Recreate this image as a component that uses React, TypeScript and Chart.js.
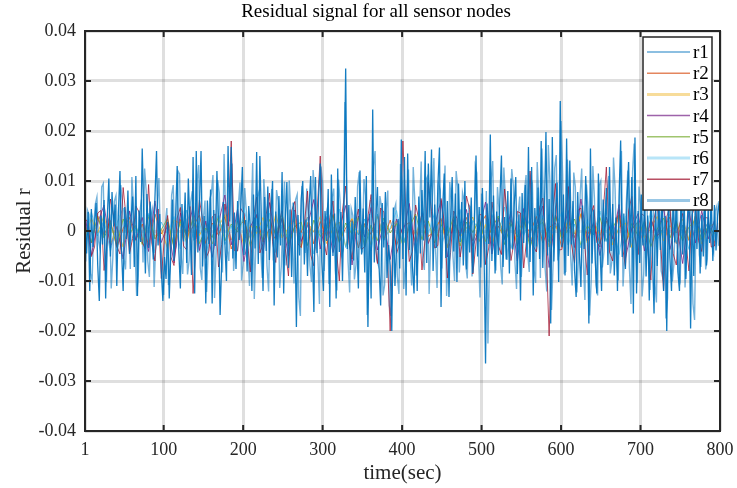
import React, { useEffect, useRef } from 'react';
import { Chart, registerables } from 'chart.js';

Chart.register(...registerables);

const TITLE = 'Residual signal for all sensor nodes';
const X_LABEL = 'time(sec)';
const Y_LABEL = 'Residual r';
const X_TICKS = [1, 100, 200, 300, 400, 500, 600, 700, 800];
const Y_TICKS = [-0.04, -0.03, -0.02, -0.01, 0, 0.01, 0.02, 0.03, 0.04];
const SERIES_NAMES = ['r1', 'r2', 'r3', 'r4', 'r5', 'r6', 'r7', 'r8'];
const SERIES_COLORS = [
  'rgba(0,114,189,0.55)',
  'rgba(217,83,25,0.8)',
  'rgba(237,177,32,0.8)',
  'rgba(126,47,142,0.85)',
  'rgba(119,172,48,0.8)',
  'rgba(77,190,238,0.8)',
  'rgba(162,20,47,0.75)',
  'rgba(0,114,189,0.92)',
];
const SERIES_WIDTHS = [1.4, 1, 1, 1, 1, 1, 1, 1.3];
const LEGEND_COLORS = [
  'rgba(0,114,189,0.45)',
  'rgba(217,83,25,0.7)',
  'rgba(237,177,32,0.45)',
  'rgba(126,47,142,0.75)',
  'rgba(119,172,48,0.7)',
  'rgba(77,190,238,0.4)',
  'rgba(162,20,47,0.75)',
  'rgba(0,114,189,0.4)',
];
const LEGEND_WIDTHS = [2, 1.5, 3, 1.5, 1.5, 3, 1.5, 3];

// all values are in units of 1e-3
const VALUE_UNIT = 1e-3;

// r8: first sample at t = 1 s, one sample every 2 s
const R8_START = 1;
const R8_STEP = 2;
const R8 = [
  2.1, -4.5, 3.8, -12.0, 4.4, -3.2, 1.5, 5.6, -6.8, -14.0, 3.1, -2.7, 6.2, -13.5, 2.4, 10.5, -5.1, 7.8, 0.9, 5.3, -11.0, 3.6, 12.0, -3.9, -12.0, 4.8, -1.6, 8.1, -4.6, 2.7, 6.9, -7.2, 11.0, -13.0, 4.1, -2.2, 16.5, 3.3, -8.5, 7.4,
  -3.4, 5.9, 0.8, -5.7, 6.6, 16.0, -2.9, 3.4, -7.9, -14.0, -5.2, -9.6, 1.8, -13.5, -4.1, 6.3, -6.0, 2.8, 13.0, -3.7, -11.5, 5.4, -2.1, 7.7, -6.4, 10.5, 1.2, -8.8, 14.8, -12.5, 16.0, -4.3, 4.9, 16.0, -7.1, 3.0, -14.5, 6.1, -2.6, 8.3,
  -14.5, 4.2, -3.0, 12.0, 2.5, -16.8, -6.2, 5.8, -2.4, -10.0, 17.0, 1.9, 16.8, -5.5, 3.7, -7.6, 6.0, -1.8, 4.6, 12.8, -4.8, 2.2, -8.1, 5.0, 0.6, -12.0, 7.3, -3.5, 15.8, -6.6, 15.0, 2.0, -12.0, 6.8, -4.0, 8.9, -5.8, 3.1, 10.0, -14.9,
  3.9, -5.3, 7.0, -2.9, 11.8, -12.5, 2.6, 9.8, -7.4, 4.3, -9.2, 5.7, 1.1, -19.2, 3.2, -4.9, 6.4, 10.0, -6.7, 2.3, -9.0, 5.1, 11.0, -3.1, -16.2, 10.8, -4.4, 7.2, 13.5, -6.1, -12.0, 4.0, -2.0, 8.4, -15.2, 11.3, -5.0, 3.5, -13.5, 12.5,
  -4.2, 3.8, -10.0, 6.6, 32.5, -3.6, 5.2, -7.8, 2.1, -5.9, 6.8, -2.5, -11.5, 12.1, -4.7, 4.5, -8.3, 11.0, -19.2, 3.4, -13.5, 24.3, -6.3, 2.9, 8.8, -7.0, -14.9, 5.6, -3.3, 7.8, -9.4, -2.8, -6.8, -20.0, 4.7, -11.0, -3.0, 2.4, -7.5, 18.3,
  -5.6, 14.8, -12.9, 15.5, -3.8, 4.1, -7.1, -12.5, 3.0, -12.0, 6.9, -4.5, 8.2, -1.9, 16.0, -6.4, 13.5, 2.7, 16.3, -8.0, 5.3, -3.4, 9.1, 16.7, -15.2, 4.4, 11.5, -5.4, 6.0, -13.2, 2.5, 10.8, -4.1, 7.5, -10.2, 9.5, -2.2, 5.8, -6.9, 10.0,
  -7.7, 3.6, -4.3, 6.7, -8.4, 2.0, 15.1, -5.1, 4.8, -7.3, 8.6, -3.0, -26.5, 5.5, -2.6, 19.3, -6.0, 7.1, -8.5, 3.9, -4.8, 6.2, 15.1, -7.2, 2.8, -5.7, 8.0, -8.5, 10.5, -3.7, 5.0, 10.8, -8.6, 3.3, -13.9, 7.6, -2.4, 9.2, -5.3, 16.8,
  -6.2, 12.8, -12.9, 4.6, -3.1, 8.7, -5.6, 18.0, -7.4, 3.7, 19.8, -4.9, 6.4, -18.5, 18.8, -6.1, 4.2, 9.7, -10.2, 26.0, -3.2, 7.3, -8.9, 18.5, -5.0, 14.1, -2.7, 6.0, -7.9, -13.2, 7.8, -4.4, -11.2, 5.1, -3.6, 11.0, 2.3, -18.5, 16.5, -6.5,
  4.3, -5.8, -12.5, 11.5, -3.5, -12.0, 6.3, -2.1, 8.6, -6.8, 12.8, -4.0, 5.4, -8.9, 2.7, -12.0, 7.0, 18.1, -5.2, 3.5, -7.6, 6.1, 13.8, -3.3, 10.8, -16.5, 18.7, -12.5, 4.0, -6.4, 7.3, -2.9, 5.6, -9.1, 3.1, -13.9, 6.2, -4.6, -16.5, 4.8,
  -7.0, 5.5, -3.8, 8.1, -12.0, 3.0, -20.0, 6.7, -5.4, -12.0, 7.9, -2.3, 4.9, -8.2, -12.0, 9.0, -4.7, 5.8, -9.6, 2.6, 7.2, -19.5, 4.4, -9.0, 6.5, -3.6, 8.3, -8.5, 3.2, -5.1, 7.6, -6.9, 4.1, -2.4, 6.8, -6.0, 5.2, -3.9, 2.9, 6.0,
];

// r1, part A: samples at t = 2, 6, 10, ... s
const R1_A_START = 2;
const R1_A_STEP = 4;
const R1_A = [
  -6.1, 3.3, -9.8, 5.4, -2.0, 8.8, -4.7, 1.9, -11.5, 6.0, -3.1, 9.2, -5.5, 2.4, -7.6, 4.9, -13.0, 3.7, -6.3, 8.0,
  -9.2, 4.5, -2.7, 10.6, -6.6, 1.4, -10.8, 7.2, -3.9, 12.0, -5.0, 3.3, -8.7, 5.8, -1.7, 9.9, -7.4, 2.6, -12.2, 6.4,
  11.2, -4.2, 7.6, -8.3, 3.0, -6.0, 13.5, -2.9, 5.1, -9.9, 8.6, -4.8, 2.1, -13.6, 6.9, -3.5, 10.4, -7.0, 4.0, -5.9,
  8.2, -11.4, 3.6, -6.9, 10.1, -2.3, 6.3, -13.2, 9.0, -4.4, 2.8, -10.2, 7.8, -5.3, 12.9, -8.0, 4.6, -3.0, 8.5, -11.9,
  5.9, -3.8, 9.6, -12.3, 3.1, -6.7, 11.8, -4.0, 7.1, -9.5, 2.7, 16.0, -6.8, 5.0, -10.8, 8.1, -17.0, 4.2, -9.1, 13.4,
  -11.6, 7.3, -4.6, 12.8, -8.9, 3.9, -5.7, 10.2, -12.6, 6.8, -3.3, 9.4, -7.5, 13.1, -4.3, 5.6, -10.0, 8.7, -2.5, 6.2,
  -9.5, 4.8, -6.2, 11.6, -13.3, 2.9, 8.0, -5.6, 14.0, -7.9, 4.1, -10.7, 6.7, -3.2, 12.4, -6.3, 3.5, -9.2, 7.9, -4.5,
  10.7, -7.7, 13.8, -9.4, 5.5, -12.1, 9.9, -6.5, 15.2, -4.0, 11.3, -8.1, 6.1, -10.9, 8.8, -5.2, 12.5, -13.8, 4.7, -9.6,
  6.6, -12.9, 10.0, -4.1, 7.8, -8.5, 14.7, -6.2, 9.3, -11.1, 5.2, -7.4, 12.0, -3.6, 8.9, -13.1, 6.0, -5.0, 9.7, -10.3,
  4.3, -8.0, 5.7, -13.5, 3.4, -6.6, 8.3, -9.9, 2.6, -5.3, 7.7, -14.6, 4.9, -4.8, 3.2, -7.7, 5.3, -3.1, 4.0, -2.8,
];
// r1, part B: samples at t = 4, 8, 12, ... s
const R1_B_START = 4;
const R1_B_STEP = 4;
const R1_B = [
  4.2, -8.5, 1.3, 6.8, -3.6, 9.5, -10.2, 2.7, -5.4, 7.1, -1.8, 5.9, -7.7, 3.4, 10.8, -4.1, -9.0, 6.3, 12.5, -6.0,
  3.1, -11.2, 5.0, -2.4, -12.8, 4.6, -7.3, 9.2, -3.0, 11.4, -8.6, 2.2, -5.9, 8.0, -1.5, 13.2, -9.8, 6.1, -4.4, 7.5,
  -13.4, 10.2, -5.2, 15.4, -3.8, 6.6, -8.0, 2.9, 9.7, -6.5, 4.0, -11.0, 13.6, -2.6, 7.9, -9.4, 5.3, -12.1, 8.4, -3.2,
  6.0, -7.1, 9.9, -4.6, 3.7, -10.5, 7.3, -17.0, 5.6, 8.5, -6.9, 12.2, -2.8, -14.6, 9.4, 3.0, -10.6, 6.7, -8.1, 10.3,
  -4.8, 25.8, -6.2, 4.5, -9.7, 8.9, -3.4, 10.4, -16.8, 6.2, 13.0, -5.7, 7.0, -12.9, 4.3, -15.0, -8.8, 5.4, -12.6, 9.6,
  -7.4, 12.3, -10.9, 6.1, -4.9, 13.9, -7.8, 10.9, -2.1, 14.6, -11.4, 8.2, 3.6, -13.0, 9.8, -5.0, 12.0, -8.3, 7.7, -6.6,
  5.2, -9.1, 13.0, -4.2, 7.5, -6.8, -22.5, 10.1, -3.5, 8.8, -7.0, 12.7, -5.8, 4.4, 9.0, -11.6, 6.9, -3.1, 11.2, -8.2,
  9.5, -10.4, 6.6, 16.5, -7.6, 17.2, -15.8, 12.6, -5.9, 22.0, -8.4, 14.3, -4.9, 11.7, -12.3, 7.2, -6.1, 9.3, -16.9, 13.0,
  -10.8, 9.1, -7.3, 5.7, 11.0, -6.0, 8.4, -9.9, 16.0, -4.5, 12.1, -14.6, 17.5, -10.4, 5.3, -8.6, 6.4, -11.8, 4.9, -14.3,
  3.8, -9.4, -17.5, 6.5, -10.1, 4.2, -8.7, 7.0, -11.3, 5.5, -4.0, -17.8, 6.0, -7.2, 3.9, -5.6, 7.4, -4.3, 5.0, -2.5,
];

// r2 ... r6: first sample at t = 1 s, one sample every 8 s
const SMALL_START = 1;
const SMALL_STEP = 8;
const R2 = [
  1.2, -2.4, 3.0, -0.8, 2.1, -3.3, 0.5, 2.7, -1.9, 1.4,
  -2.8, 3.4, -0.6, 1.8, -3.1, 2.3, -1.2, 0.9, 3.2, -2.5,
  1.6, -0.9, 2.9, -3.6, 0.7, 2.0, -1.5, 3.1, -2.2, 0.4,
  -1.7, 2.6, -3.0, 1.1, -0.3, 2.8, -2.6, 1.9, -1.0, 3.3,
  -2.1, 0.6, 2.4, -3.4, 1.5, -0.7, 3.0, -1.8, 2.2, -2.9,
  0.8, 1.7, -2.3, 3.5, -1.1, 0.2, 2.5, -3.2, 1.3, -0.5,
  2.7, -2.0, 0.9, 3.1, -2.7, 1.0, -1.4, 2.3, -3.0, 1.8,
  -0.4, 2.9, -2.4, 0.7, 1.6, -3.3, 2.1, -1.3, 3.4, -0.8,
  1.4, -2.6, 2.0, -1.6, 3.2, -2.2, 0.3, 1.9, -3.1, 2.6,
  -1.0, 0.5, 2.8, -2.5, 1.2, -1.9, 3.0, -0.6, 1.7, -2.3,
];
const R3 = [
  -1.5, 2.6, -0.4, 3.1, -2.7, 1.0, -3.2, 1.9, 0.6, -2.0,
  2.8, -1.1, 0.3, -3.5, 2.2, 1.4, -2.4, 3.0, -0.9, 1.6,
  -2.6, 0.8, 3.3, -1.8, 2.0, -3.0, 1.2, -0.5, 2.7, -2.2,
  3.4, -1.4, 0.7, 2.3, -3.3, 1.7, -0.2, 2.9, -2.5, 0.5,
  1.8, -3.1, 2.5, -0.7, 1.1, -2.8, 3.2, -1.6, 0.4, 2.1,
  -2.9, 1.5, -0.8, 3.0, -2.3, 0.9, 1.9, -3.4, 2.4, -1.2,
  0.6, 2.8, -2.1, 1.3, -3.0, 2.2, -0.3, 1.7, -2.6, 3.1,
  -1.9, 0.2, 2.6, -3.2, 1.0, -1.5, 2.3, -0.6, 3.5, -2.4,
  1.4, -0.9, 2.7, -2.8, 0.8, 1.6, -3.3, 2.0, -1.3, 0.5,
  2.9, -2.0, 1.1, -0.4, 2.4, -1.7, 3.0, -2.6, 0.7, 1.5,
];
const R4 = [
  3.1, -4.8, 1.6, 5.2, -3.4, 0.9, -5.6, 4.0, -1.8, 2.7,
  -4.1, 6.0, -2.3, 1.2, -6.4, 3.6, -0.7, 4.9, -3.9, 2.0,
  -5.3, 1.5, 7.2, -2.8, 4.4, -6.1, 0.8, 3.3, -4.5, 5.7,
  -1.4, 2.5, -5.0, 4.2, -2.1, 1.0, 6.3, -3.6, 2.9, -4.3,
  0.5, 5.1, -6.8, 3.0, -1.2, 4.7, -3.8, 1.8, -5.7, 2.4,
  -0.6, 5.5, -4.4, 3.7, -2.5, 1.1, 6.1, -5.2, 2.2, -1.0,
  4.3, -3.1, 0.4, 5.8, -4.6, 2.6, -1.7, 3.9, -6.0, 4.5,
  -2.9, 1.3, 5.0, -7.3, 3.2, -0.9, 4.1, -3.3, 6.4, -2.0,
  1.7, -4.9, 2.8, -1.5, 5.3, -5.5, 0.6, 3.5, -4.0, 2.3,
  -1.1, 4.6, -3.7, 1.9, -6.5, 3.8, -2.4, 4.0, -1.6, 2.1,
];
const R5 = [
  0.8, -2.2, 2.9, -1.4, 1.7, -3.0, 2.4, -0.5, 1.1, -2.7,
  3.2, -1.6, 0.3, 2.5, -3.4, 1.9, -0.8, 2.1, -2.5, 0.6,
  -1.3, 3.0, -2.0, 1.4, -0.2, 2.7, -3.1, 1.0, -1.8, 2.3,
  -0.7, 3.3, -2.6, 0.9, 1.8, -2.9, 2.2, -1.1, 0.4, 3.1,
  -2.3, 1.6, -0.6, 2.8, -3.2, 1.2, -1.9, 2.6, -0.4, 1.5,
  -2.8, 0.7, 3.4, -1.7, 2.0, -2.4, 1.3, -0.9, 2.9, -3.0,
  1.8, -0.3, 2.3, -2.1, 0.5, 3.0, -2.7, 1.4, -1.2, 2.5,
  -3.3, 0.9, 1.7, -2.2, 3.1, -1.5, 0.2, 2.4, -2.9, 1.1,
  -0.8, 2.7, -1.9, 0.6, 3.2, -2.5, 1.5, -1.0, 2.0, -3.1,
  0.4, 2.6, -1.4, 1.9, -2.0, 0.8, 2.2, -1.7, 1.0, -0.6,
];
const R6 = [
  -2.5, 3.8, -1.0, 2.2, -4.1, 1.5, 4.6, -3.0, 0.7, -2.2,
  3.5, -4.4, 1.8, -0.6, 2.9, -3.6, 4.2, -1.3, 2.0, -4.8,
  0.9, 3.2, -2.7, 1.1, -3.9, 4.7, -1.6, 2.5, -0.4, 3.6,
  -4.3, 1.2, -2.0, 3.9, -1.1, 2.7, -4.6, 0.5, 3.0, -2.4,
  4.4, -3.3, 1.6, -0.8, 2.4, -4.0, 3.4, -1.9, 0.6, 4.1,
  -2.9, 1.3, -4.5, 2.8, -0.5, 3.7, -3.2, 1.0, -1.7, 4.3,
  -3.8, 2.1, 0.3, -2.6, 3.3, -1.2, 4.8, -3.5, 1.9, -0.9,
  2.6, -4.2, 3.1, -1.5, 0.8, 3.8, -2.8, 1.4, -3.4, 2.3,
  -0.7, 4.0, -2.1, 1.7, -4.7, 3.0, -1.4, 2.2, -3.1, 4.5,
  -1.8, 0.6, 3.4, -2.3, 1.1, -3.7, 2.7, -0.3, 1.6, -2.0,
];

// r7, part A: samples at t = 1, 9, 17, ... s
const R7_A_START = 1;
const R7_A_STEP = 8;
const R7_A = [
  2.4, -5.1, 3.6, -7.9, 6.4, -3.0, 8.7, -4.4, 5.0, -2.2,
  9.3, -6.0, -9.5, 3.1, -6.9, 4.7, -3.8, -12.5, 6.2, -5.5,
  2.8, -7.2, 5.4, 18.0, -4.0, 3.5, -8.2, 6.8, -2.6, 7.6,
  -6.3, 4.1, -9.0, 5.9, -3.3, 8.0, -7.0, 15.0, -4.8, 6.0,
  -10.0, 9.0, -5.6, 4.4, -3.1, 7.3, -6.5, 3.8, -20.0, -4.5,
  18.0, -6.1, 5.2, -7.8, 9.8, -3.4, 6.5, -9.4, 4.0, -5.2,
  7.0, -8.6, 3.3, -6.7, 5.8, -2.9, 8.4, -5.9, 3.9, -7.4,
  12.0, -4.2, 6.6, -21.0, 9.5, -3.7, 8.9, -6.4, 4.6, -8.8,
  5.1, -3.2, 12.8, -6.0, 4.3, -7.1, 6.9, -4.7, 3.0, -9.8,
  5.6, -12.0, 4.8, -6.8, 3.5, -8.0, 5.3, -4.1, 2.6, -3.0,
];
// r7, part B: samples at t = 5, 13, 21, ... s
const R7_B_START = 5;
const R7_B_STEP = 8;
const R7_B = [
  1.8, -3.2, 4.1, -2.0, 3.0, -4.6, 2.2, -1.5, 3.8, -3.6,
  -2.4, 4.4, -1.1, -5.2, 2.6, -3.0, 4.9, -1.7, 2.3, -4.0,
  3.4, -2.7, 1.0, -3.9, 4.5, -1.3, 2.8, -4.4, 3.3, -2.1,
  1.6, -3.5, 4.0, -2.6, 1.2, -4.8, 3.6, -1.9, 2.7, -3.3,
  4.2, -2.2, 1.5, -3.7, 2.9, -1.4, 4.6, -3.1, 2.0, -2.5,
  3.1, -4.1, 2.4, -1.6, 3.9, -2.9, 1.8, -4.3, 2.5, -1.0,
  4.3, -2.4, 3.2, -3.4, 1.1, -4.7, 2.1, -2.0, 3.6, -1.2,
  -3.0, 4.7, -1.8, 2.6, -3.8, 1.9, -2.6, 4.1, -1.5, 3.0,
  -2.3, 3.7, -4.2, 1.4, -2.8, 4.0, -1.1, 3.5, -3.6, 2.4,
  -1.7, 2.9, -4.5, 1.3, -2.2, 3.3, -1.9, 2.7, -3.2, 1.6,
];

type Part = { values: number[]; start: number; step: number };
const SERIES_PARTS: Part[][] = [
  [{ values: R1_A, start: R1_A_START, step: R1_A_STEP }, { values: R1_B, start: R1_B_START, step: R1_B_STEP }],
  [{ values: R2, start: SMALL_START, step: SMALL_STEP }],
  [{ values: R3, start: SMALL_START, step: SMALL_STEP }],
  [{ values: R4, start: SMALL_START, step: SMALL_STEP }],
  [{ values: R5, start: SMALL_START, step: SMALL_STEP }],
  [{ values: R6, start: SMALL_START, step: SMALL_STEP }],
  [{ values: R7_A, start: R7_A_START, step: R7_A_STEP }, { values: R7_B, start: R7_B_START, step: R7_B_STEP }],
  [{ values: R8, start: R8_START, step: R8_STEP }],
];

const FONT = "'Liberation Serif', 'Times New Roman', serif";
const TEXT_COLOR = '#262626';

function buildPoints(parts: Part[]) {
  const pts: { x: number; y: number }[] = [];
  parts.forEach((p) => p.values.forEach((v, k) => pts.push({ x: p.start + k * p.step, y: v * VALUE_UNIT })));
  pts.sort((a, b) => a.x - b.x);
  return pts;
}

const framePlugin = {
  id: 'matlabFrame',
  afterDraw(chart: any) {
    const { ctx, chartArea: a, scales } = chart;
    ctx.save();
    // title, centred a little right of the canvas centre like the original
    ctx.fillStyle = '#000000';
    ctx.font = `19px ${FONT}`;
    ctx.textAlign = 'center';
    ctx.textBaseline = 'middle';
    ctx.fillText(TITLE, 376, 12);

    ctx.strokeStyle = TEXT_COLOR;
    ctx.lineWidth = 2;
    ctx.beginPath();
    for (const t of X_TICKS) {
      const x = scales.x.getPixelForValue(t);
      ctx.moveTo(x, a.bottom);
      ctx.lineTo(x, a.bottom - 6);
      ctx.moveTo(x, a.top);
      ctx.lineTo(x, a.top + 6);
    }
    for (const t of Y_TICKS) {
      const y = scales.y.getPixelForValue(t);
      ctx.moveTo(a.left, y);
      ctx.lineTo(a.left + 6, y);
      ctx.moveTo(a.right, y);
      ctx.lineTo(a.right - 6, y);
    }
    ctx.stroke();
    ctx.strokeRect(a.left, a.top, a.right - a.left, a.bottom - a.top);

    // legend box
    const boxW = 69;
    const boxH = 173;
    const bx = a.right - 8 - boxW;
    const by = a.top + 6;
    ctx.fillStyle = '#ffffff';
    ctx.fillRect(bx, by, boxW, boxH);
    ctx.lineWidth = 1.5;
    ctx.strokeStyle = TEXT_COLOR;
    ctx.strokeRect(bx, by, boxW, boxH);
    ctx.font = `19px ${FONT}`;
    ctx.textBaseline = 'middle';
    ctx.textAlign = 'left';
    SERIES_NAMES.forEach((name, i) => {
      const y = by + 15 + i * 21.2;
      ctx.strokeStyle = LEGEND_COLORS[i];
      ctx.lineWidth = LEGEND_WIDTHS[i];
      ctx.beginPath();
      ctx.moveTo(bx + 4, y);
      ctx.lineTo(bx + 47, y);
      ctx.stroke();
      ctx.fillStyle = '#000000';
      ctx.fillText(name, bx + 50, y + 1);
    });
    ctx.restore();
  },
};

export default function App() {
  const canvasRef = useRef<HTMLCanvasElement | null>(null);

  useEffect(() => {
    const canvas = canvasRef.current;
    if (!canvas) return;
    const datasets = SERIES_PARTS.map((parts, i) => ({
      label: SERIES_NAMES[i],
      data: buildPoints(parts),
      borderColor: SERIES_COLORS[i],
      backgroundColor: SERIES_COLORS[i],
      borderWidth: SERIES_WIDTHS[i],
      pointRadius: 0,
      tension: 0,
      fill: false,
      order: SERIES_NAMES.length - 1 - i,
    }));

    const chart = new Chart(canvas, {
      type: 'line',
      data: { datasets },
      options: {
        responsive: false,
        animation: false,
        devicePixelRatio: 1,
        layout: { padding: { left: 0, right: 17, top: 31, bottom: 0 } },
        plugins: {
          legend: { display: false },
          tooltip: { enabled: false },
          title: { display: false },
        },
        scales: {
          x: {
            type: 'linear',
            min: 1,
            max: 800,
            afterBuildTicks: (scale: any) => {
              scale.ticks = X_TICKS.map((v) => ({ value: v }));
            },
            afterFit: (scale: any) => {
              scale.height = 57;
              scale.paddingLeft = 0;
              scale.paddingRight = 0;
            },
            ticks: {
              color: TEXT_COLOR,
              font: { family: FONT, size: 18 },
              padding: 8,
              maxRotation: 0,
              autoSkip: false,
              callback: (v: any) => String(v),
            },
            grid: {
              color: 'rgba(38,38,38,0.15)',
              lineWidth: 3,
              drawTicks: false,
            },
            border: { display: false },
            title: {
              display: true,
              text: X_LABEL,
              color: TEXT_COLOR,
              font: { family: FONT, size: 21 },
              padding: { top: 0, bottom: 2 },
            },
          },
          y: {
            type: 'linear',
            min: -0.04,
            max: 0.04,
            afterBuildTicks: (scale: any) => {
              scale.ticks = Y_TICKS.map((v) => ({ value: v }));
            },
            afterFit: (scale: any) => {
              scale.width = 85;
              scale.paddingTop = 0;
              scale.paddingBottom = 0;
            },
            ticks: {
              color: TEXT_COLOR,
              font: { family: FONT, size: 18 },
              padding: 9,
              autoSkip: false,
              callback: (v: any) => (Math.abs(v) < 1e-9 ? '0' : Number(v).toFixed(2)),
            },
            grid: {
              color: 'rgba(38,38,38,0.15)',
              lineWidth: 3,
              drawTicks: false,
            },
            border: { display: false },
            title: {
              display: true,
              text: Y_LABEL,
              color: TEXT_COLOR,
              font: { family: FONT, size: 21 },
              padding: { top: 12, bottom: 0 },
            },
          },
        },
      },
      plugins: [framePlugin],
    });
    return () => chart.destroy();
  }, []);

  return (
    <div style={{ position: 'absolute', left: 0, top: 0, width: 737, height: 488, background: '#ffffff' }}>
      <canvas ref={canvasRef} width={737} height={488} style={{ display: 'block' }} />
    </div>
  );
}
